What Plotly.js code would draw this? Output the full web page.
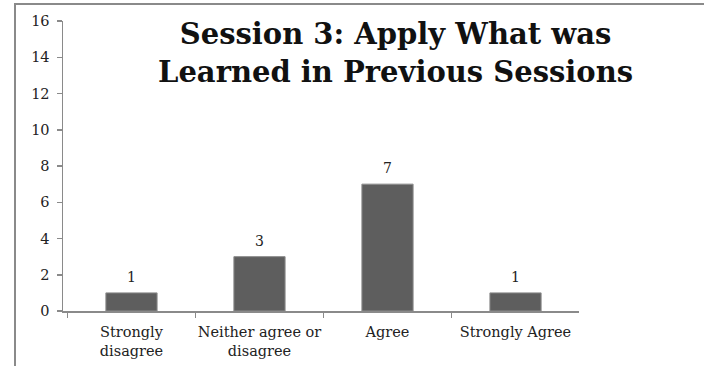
<!DOCTYPE html>
<html>
<head>
<meta charset="utf-8">
<script src="https://cdn.plot.ly/plotly-3.0.1.min.js"></script>
<style>
  html, body { margin: 0; padding: 0; background: #ffffff; }
  #wrap { position: relative; width: 704px; height: 366px; overflow: hidden; }
  #frame { position: absolute; left: 14px; top: 3px; width: 900px; height: 600px;
           border-left: 2px solid #8a8a8a; border-top: 2px solid #8a8a8a; }
  #chart { position: absolute; left: 0; top: 0; width: 704px; height: 366px; }
</style>
</head>
<body>
<div id="wrap">
  <div id="frame"></div>
  <div id="chart"></div>
</div>
<script>
// Survey responses for session 3
const categories = ["Strongly<br>disagree", "Neither agree or<br>disagree", "Agree", "Strongly Agree"];
const counts = [1, 3, 7, 1];
const yTicks = [0, 2, 4, 6, 8, 10, 12, 14, 16];
const chartTitle = "Session 3: Apply What was<br>Learned in Previous Sessions";

const serif = "'DejaVu Serif', 'Liberation Serif', serif";

const trace = {
  type: "bar",
  x: categories,
  y: counts,
  marker: { color: "#5e5e5e", line: { color: "#8c8c8c", width: 1 } },
  width: 0.4,
  hoverinfo: "none"
};

// value labels sitting just above each bar
const valueLabels = categories.map((c, i) => ({
  x: c, y: counts[i], xref: "x", yref: "y",
  text: String(counts[i]), showarrow: false,
  yanchor: "bottom", yshift: 6,
  font: { family: serif, size: 14, color: "#222222" }
}));

const layout = {
  width: 704,
  height: 366,
  margin: { l: 63, r: 125, t: 21, b: 55 },
  paper_bgcolor: "rgba(0,0,0,0)",
  plot_bgcolor: "rgba(0,0,0,0)",
  showlegend: false,
  annotations: [{
    text: "<b>" + chartTitle + "</b>",
    font: { family: serif, size: 29, color: "#111111" },
    xref: "paper", x: 0.645, xanchor: "center",
    yref: "paper", y: 1.02, yanchor: "top",
    showarrow: false, align: "center"
  }].concat(valueLabels),
  xaxis: {
    type: "category",
    range: [-0.535, 3.496],
    tickangle: 0,
    ticks: "outside", tickson: "boundaries", ticklen: 5,
    tickcolor: "#8a8a8a", tickwidth: 1.5,
    ticklabelstandoff: 7,
    showline: true, linecolor: "#8a8a8a", linewidth: 1.5,
    tickfont: { family: serif, size: 14.5, color: "#222222" },
    showgrid: false, zeroline: false, fixedrange: true
  },
  yaxis: {
    range: [0, 16],
    tickvals: yTicks,
    ticktext: yTicks.map(String),
    showline: true, linecolor: "#8a8a8a", linewidth: 1.5,
    ticks: "outside", ticklen: 5, tickcolor: "#8a8a8a", tickwidth: 1.5,
    ticklabelstandoff: 4,
    tickfont: { family: serif, size: 14.5, color: "#222222" },
    showgrid: false, zeroline: false, fixedrange: true
  }
};

Plotly.newPlot("chart", [trace], layout, { displayModeBar: false, staticPlot: true });
</script>
</body>
</html>
